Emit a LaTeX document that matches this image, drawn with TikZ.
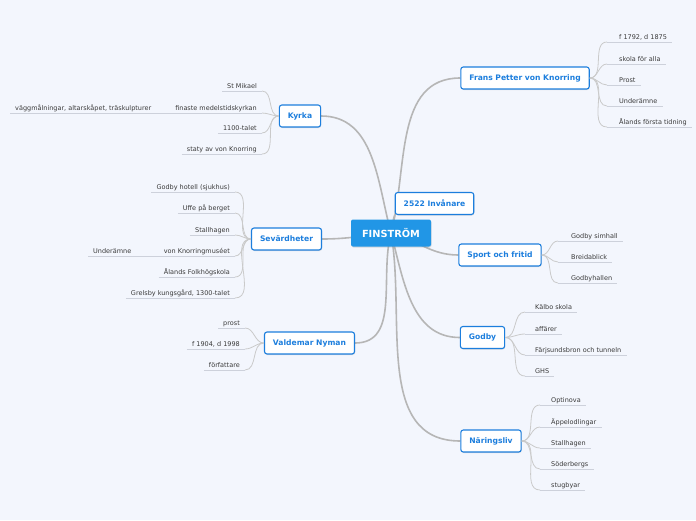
\documentclass[tikz,border=0pt]{standalone}
\usepackage{fontspec}
\setmainfont{DejaVu Sans}
\usetikzlibrary{shadows}

\definecolor{canvas}{HTML}{F3F6FD}
\definecolor{rootblue}{HTML}{2196E6}
\definecolor{topicblue}{HTML}{1C7EDD}
\definecolor{mainline}{HTML}{B6B6B6}
\definecolor{subline}{HTML}{CACACA}
\definecolor{ulinegray}{HTML}{CDD1DB}
\definecolor{subtext}{HTML}{3A3A3A}

\pgfdeclarelayer{paper}
\pgfdeclarelayer{links}
\pgfsetlayers{paper,links,main}

\tikzset{
  root/.style={fill=rootblue, rounded corners=2pt, text=white, minimum width=80pt, minimum height=27pt,
    font=\fontsize{9.8}{11}\selectfont\bfseries, drop shadow={opacity=0.25, shadow xshift=0.5pt, shadow yshift=-1pt}},
  topic/.style={draw=topicblue, line width=1.1pt, fill=white, rounded corners=2.5pt, text=topicblue,
    minimum height=22pt, inner xsep=8.5pt, font=\fontsize{7.6}{9}\selectfont\bfseries,
    drop shadow={opacity=0.25, shadow xshift=0.5pt, shadow yshift=-1pt}},
  sub/.style={text=subtext, font=\fontsize{6.5}{7.5}\selectfont, inner xsep=5pt, inner ysep=1.2pt,
    text height=5pt, text depth=1.5pt},
  lsub/.style={sub, anchor=south east},
  rsub/.style={sub, anchor=south west},
  uline/.style={draw=ulinegray, line width=0.9pt},
  mainlink/.style={draw=mainline, line width=1.6pt},
  sublink/.style={draw=subline, line width=0.8pt},
}

\begin{document}
\begin{tikzpicture}[x=1pt,y=-1pt]
\begin{pgfonlayer}{paper}
\fill[canvas] (0,0) rectangle (696,520);
\end{pgfonlayer}
\path[use as bounding box] (0,0) rectangle (696,520);

% centre and main topics
\node[root] (fin) at (391,233) {FINSTRÖM};
\node[topic] (kyrka) at (300,116) {Kyrka};
\node[topic] (sev) at (286.5,239) {Sevärdheter};
\node[topic] (nyman) at (309.5,343) {Valdemar Nyman};
\node[topic] (inv) at (434.5,203.5) {2522 Invånare};
\node[topic] (frans) at (525,78) {Frans Petter von Knorring};
\node[topic] (sport) at (500,255) {Sport och fritid};
\node[topic] (godby) at (482.5,337.5) {Godby};
\node[topic] (naring) at (491,441) {Näringsliv};

\begin{pgfonlayer}{links}
\draw[mainlink] (fin.center) to[out=105,in=0] (kyrka.east);
\draw[mainlink] (fin.center) to[out=185,in=0] (sev.east);
\draw[mainlink] (fin.center) to[out=255,in=0] (nyman.east);
\draw[mainlink] (fin.center) to[out=75,in=250] (inv.south west);
\draw[mainlink] (fin.center) to[out=75,in=180] (frans.west);
\draw[mainlink] (fin.center) to[out=-15,in=180] (sport.west);
\draw[mainlink] (fin.center) to[out=285,in=180] (godby.west);
\draw[mainlink] (fin.center) to[out=280,in=180] (naring.west);
\end{pgfonlayer}

% Kyrka
\foreach \n/\y/\t in {km/91/St Mikael, kf/113/finaste medelstidskyrkan, kt/133/1100-talet, ks/154/staty av von Knorring}{
  \node[lsub] (\n) at (262,\y) {\t\hspace{8pt}};
  \draw[uline] (\n.south west) -- (\n.south east);
  \draw[sublink] (kyrka.west) to[out=180,in=0] (\n.south east);
}
\node[rsub] (vagg) at (10,113) {väggmålningar, altarskåpet, träskulpturer};
\draw[uline] (vagg.south west) -- (kf.south west);

% Sevärdheter
\foreach \n/\y/\t in {sg/192/Godby hotell (sjukhus), su/213/Uffe på berget, ss/235/Stallhagen,
    sv/256/von Knorringmuséet, sa/277/Ålands Folkhögskola, sk/298/{Grelsby kungsgård, 1300-talet}}{
  \node[lsub] (\n) at (235,\y) {\t\hspace{8pt}};
  \draw[uline] (\n.south west) -- (\n.south east);
  \draw[sublink] (sev.west) to[out=180,in=0] (\n.south east);
}
\node[rsub] (svu) at (88,256) {Underämne};
\draw[uline] (svu.south west) -- (sv.south west);

% Valdemar Nyman
\foreach \n/\y/\t in {vp/328/prost, vf/349/{f 1904, d 1998}, vt/370/författare}{
  \node[lsub] (\n) at (245,\y) {\t\hspace{7pt}};
  \draw[uline] (\n.south west) -- (\n.south east);
  \draw[sublink] (nyman.west) to[out=180,in=0] (\n.south east);
}

% Frans Petter von Knorring
\foreach \n/\y/\t in {fl/42/{f 1792, d 1875}, fs/64/skola för alla, fp/85/Prost, fu/106/Underämne, fa/127/Ålands första tidning}{
  \node[rsub] (\n) at (607,\y) {\hspace{7pt}\t};
  \draw[uline] (\n.south west) -- (\n.south east);
  \draw[sublink] (frans.east) to[out=0,in=180] (\n.south west);
}

% Sport och fritid
\foreach \n/\y/\t in {ps/241/Godby simhall, pb/262/Breidablick, ph/283/Godbyhallen}{
  \node[rsub] (\n) at (558,\y) {\hspace{8pt}\t};
  \draw[uline] (\n.south west) -- (\n.south east);
  \draw[sublink] (sport.east) to[out=0,in=180] (\n.south west);
}

% Godby
\foreach \n/\y/\t in {gk/312/Kälbo skola, ga/334/affärer, gf/355/Färjsundsbron och tunneln, gg/376/GHS}{
  \node[rsub] (\n) at (525,\y) {\hspace{5pt}\t};
  \draw[uline] (\n.south west) -- (\n.south east);
  \draw[sublink] (godby.east) to[out=0,in=180] (\n.south west);
}

% Näringsliv
\foreach \n/\y/\t in {no/405/Optinova, na/427/Äppelodlingar, ns/448/Stallhagen, nd/469/Söderbergs, nu/490/stugbyar}{
  \node[rsub] (\n) at (540,\y) {\hspace{6pt}\t};
  \draw[uline] (\n.south west) -- (\n.south east);
  \draw[sublink] (naring.east) to[out=0,in=180] (\n.south west);
}
\end{tikzpicture}
\end{document}
